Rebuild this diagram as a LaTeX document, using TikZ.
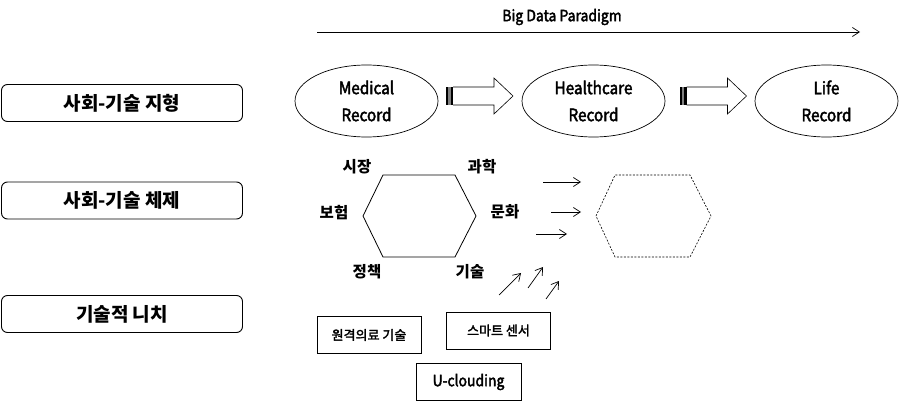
\documentclass[tikz,border=0pt]{standalone}
\usepackage{fontspec}
\setmainfont{Noto Sans CJK KR}
\newfontfamily\latn{Noto Sans CJK KR}[FakeStretch=0.9, FakeBold=2.5]
\newfontfamily\krmd{Noto Sans CJK KR}[FakeBold=2.2]
\usetikzlibrary{arrows.meta,shapes.geometric}
\tikzset{
  lbox/.style={draw, line width=0.9pt, rounded corners=6pt, minimum width=241pt, minimum height=37pt, inner sep=0pt, font=\bfseries\fontsize{19}{19}\selectfont},
  ell/.style={draw, line width=0.7pt, ellipse, minimum width=143pt, minimum height=72pt, inner sep=0pt, align=center, font=\latn\fontsize{17}{27}\selectfont},
  hexlab/.style={font=\bfseries\fontsize{15.5}{15.5}\selectfont, inner sep=0pt},
  tbox/.style={draw, line width=0.9pt, minimum width=104pt, minimum height=37pt, inner sep=0pt, font=\krmd\fontsize{13}{13}\selectfont},
  arr/.style={line width=0.7pt, -{Straight Barb[length=7pt,width=9pt]}},
}
\begin{document}
\begin{tikzpicture}[x=1pt,y=-1pt]
\useasboundingbox (0,0) rectangle (907,403);
% left labels
\node[lbox] (s1) at (122,103) {사회-기술 지형};
\node[lbox] (s2) at (122,200.5) {사회-기술 체제};
\node[lbox] (s3) at (122,314) {기술적 니치};
% big data arrow
\node[font=\latn\fontsize{15.5}{15.5}\selectfont, inner sep=0pt] (bd) at (562,17) {Big Data Paradigm};
\coordinate (bdA) at (317,32);
\coordinate (bdB) at (860,32);
\draw[arr] (bdA) -- (bdB);
% ellipses
\node[ell] (e1) at (366.5,101) {Medical\\Record};
\node[ell] (e2) at (593.5,101) {Healthcare\\Record};
\node[ell] (e3) at (826.5,101) {Life\\Record};
% block arrows
\foreach \dx in {0,233.5} {
 \begin{scope}[xshift=\dx]
  \fill (446,87) rectangle (448.4,105);
  \fill[gray] (448.4,87) rectangle (450.8,105);
  \fill (450.8,87) rectangle (453.2,105);
  \draw[line width=0.6pt, line join=miter] (453.2,87) -- (494,87) -- (494,78) -- (513,96) -- (494,114) -- (494,105) -- (453.2,105);
 \end{scope}
}
% hexagons
\draw[line width=0.8pt] (363,216) -- (383,175) -- (455,175) -- (476,216) -- (455,257) -- (383,257) -- cycle;
\draw[line width=0.6pt, dash pattern=on 2pt off 1.5pt] (596,216) -- (615,175) -- (690,175) -- (711,216) -- (690,257) -- (615,257) -- cycle;
\node[hexlab] (l1) at (357,167) {시장};
\node[hexlab] (l2) at (482,167) {과학};
\node[hexlab] (l3) at (334,213) {보험};
\node[hexlab] (l4) at (505,212) {문화};
\node[hexlab] (l5) at (367,272) {정책};
\node[hexlab] (l6) at (470,272) {기술};
% small arrows
\coordinate (a1s) at (543,182); \coordinate (a1e) at (581,182);
\coordinate (a2s) at (551,212); \coordinate (a2e) at (581,212);
\coordinate (a3s) at (536,234); \coordinate (a3e) at (567,234);
\draw[arr] (a1s) -- (a1e);
\draw[arr] (a2s) -- (a2e);
\draw[arr] (a3s) -- (a3e);
\coordinate (d1s) at (499,295); \coordinate (d1e) at (521,273);
\coordinate (d2s) at (528,288); \coordinate (d2e) at (543,267);
\coordinate (d3s) at (546,299); \coordinate (d3e) at (559,281);
\draw[arr] (d1s) -- (d1e);
\draw[arr] (d2s) -- (d2e);
\draw[arr] (d3s) -- (d3e);
% niche boxes
\node[tbox] (b1) at (369,335) {원격의료 기술};
\node[tbox] (b2) at (498.5,330.5) {스마트 센서};
\node[tbox, minimum width=105pt, font=\latn\fontsize{15.5}{15.5}\selectfont] (b3) at (468.5,382) {U-clouding};
\end{tikzpicture}
\end{document}
